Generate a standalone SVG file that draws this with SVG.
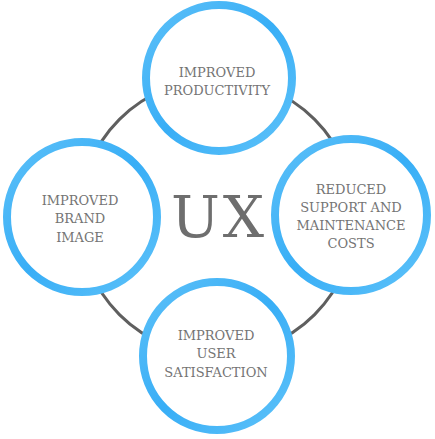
<svg xmlns="http://www.w3.org/2000/svg" width="435" height="439" viewBox="0 0 435 439">
  <defs>
    <linearGradient id="ring" x1="0" y1="0" x2="1" y2="1">
      <stop offset="0" stop-color="#5cc0f8"/>
      <stop offset="0.5" stop-color="#38aef6"/>
      <stop offset="1" stop-color="#5ec2f9"/>
    </linearGradient>
    <style>
      .node circle { fill: #ffffff; stroke: url(#ring); stroke-width: 8; }
      .lbl { font-family: "DejaVu Serif", "Liberation Serif", serif; font-size: 13px; fill: #747474; text-anchor: middle; }
      .ux { font-family: "DejaVu Serif", "Liberation Serif", serif; font-size: 58px; fill: #6e6e6e; text-anchor: middle; letter-spacing: 3px; }
    </style>
  </defs>
  <rect width="435" height="439" fill="#ffffff"/>
  <g id="connectors">
    <circle cx="217" cy="217" r="138" fill="none" stroke="#5f5f5f" stroke-width="3"/>
  </g>
  <text class="ux" x="219" y="237">UX</text>
  <g id="node-productivity" class="node">
    <circle cx="219" cy="78" r="73"/>
    <text class="lbl" x="217" y="77">IMPROVED</text>
    <text class="lbl" x="217" y="95">PRODUCTIVITY</text>
  </g>
  <g id="node-brand" class="node">
    <circle cx="82" cy="217" r="75"/>
    <text class="lbl" x="80" y="205">IMPROVED</text>
    <text class="lbl" x="80" y="223">BRAND</text>
    <text class="lbl" x="80" y="242">IMAGE</text>
  </g>
  <g id="node-costs" class="node">
    <circle cx="351" cy="215" r="76"/>
    <text class="lbl" x="351" y="194">REDUCED</text>
    <text class="lbl" x="351" y="212">SUPPORT AND</text>
    <text class="lbl" x="351" y="230">MAINTENANCE</text>
    <text class="lbl" x="351" y="248">COSTS</text>
  </g>
  <g id="node-satisfaction" class="node">
    <circle cx="217" cy="356" r="74"/>
    <text class="lbl" x="216" y="340">IMPROVED</text>
    <text class="lbl" x="216" y="358">USER</text>
    <text class="lbl" x="216" y="377">SATISFACTION</text>
  </g>
</svg>
